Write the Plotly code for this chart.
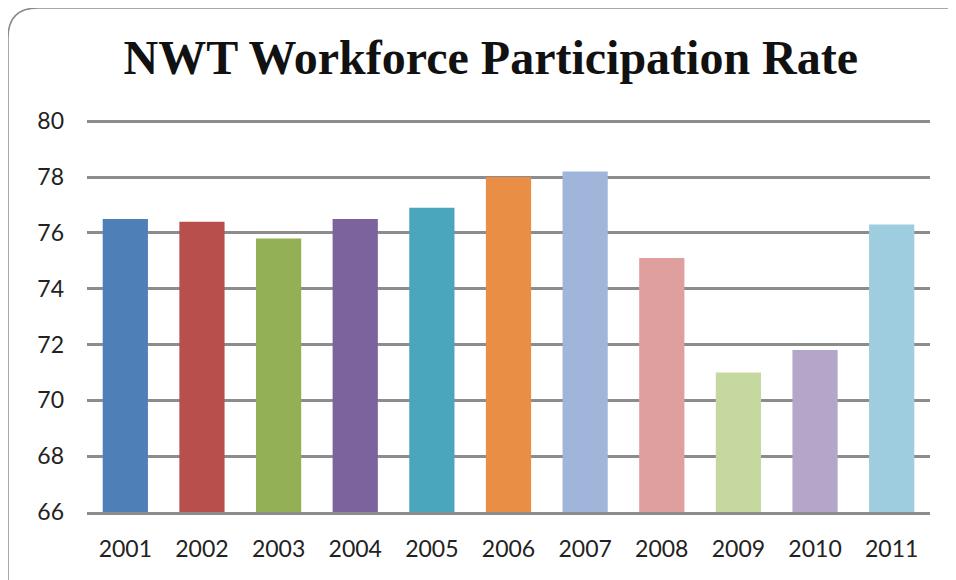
import plotly.graph_objects as go

years = ["2001", "2002", "2003", "2004", "2005", "2006", "2007", "2008", "2009", "2010", "2011"]
rates = [76.5, 76.4, 75.8, 76.5, 76.9, 78.0, 78.2, 75.1, 71.0, 71.8, 76.3]
colors = ["#4F7FB7", "#B84F4D", "#94B055", "#7D639D", "#4AA6BC", "#E98F45",
          "#A0B5DA", "#DF9F9E", "#C4D89F", "#B4A6C8", "#9ECDDF"]
y_ticks = [66, 68, 70, 72, 74, 76, 78, 80]

W, H = 956, 580
OFF = 8  # page body margin offset
PXU = 391 / 14.0  # pixels per unit
YTOP = 80.15
L = 87 - OFF
T = int(round(121 - (YTOP - 80) * PXU)) - OFF
R = W - (930 - OFF)
B = H - (512 - OFF)
pw, ph = W - L - R, H - T - B

def px(x):
    return (x - OFF - L) / pw

def py(y):
    return (H - B - (y - OFF)) / ph

fig = go.Figure()
fig.add_trace(go.Bar(
    x=years, y=rates, marker=dict(color=colors, line=dict(width=0)),
))

# rounded border
r = 30
x0, y0, x1, y1 = 8, 8, 990, 620
path = (f"M {px(x0)} {py(y1)} L {px(x0)} {py(y0 + r)} "
        f"Q {px(x0)} {py(y0)} {px(x0 + r)} {py(y0)} "
        f"L {px(x1)} {py(y0)}")
fig.add_shape(type="path", path=path, xref="paper", yref="paper",
              line=dict(color="#8a8a8a", width=1.5), layer="above")

fig.update_layout(
    width=W, height=H,
    margin=dict(l=L, r=R, t=T, b=B),
    paper_bgcolor="white", plot_bgcolor="white",
    showlegend=False,
    bargap=0.41,
    title=dict(text="<b>NWT Workforce Participation Rate</b>",
               font=dict(family="Liberation Serif, Times New Roman, serif", size=48, color="#111111"),
               x=0.505, xanchor="center", y=1 - (57 - OFF) / H, yanchor="middle"),
    font=dict(family="Lato, Open Sans, sans-serif", size=23, color="#222222"),
)
fig.update_yaxes(range=[66, YTOP], tickvals=y_ticks, showgrid=True,
                 gridcolor="#8c8c8c", gridwidth=2.5, zeroline=False,
                 ticks="", ticklabelstandoff=22, fixedrange=True)
fig.update_xaxes(showline=True, linecolor="#8c8c8c", linewidth=3,
                 ticks="", ticklabelstandoff=14, fixedrange=True)

fig.write_html("out.html")
